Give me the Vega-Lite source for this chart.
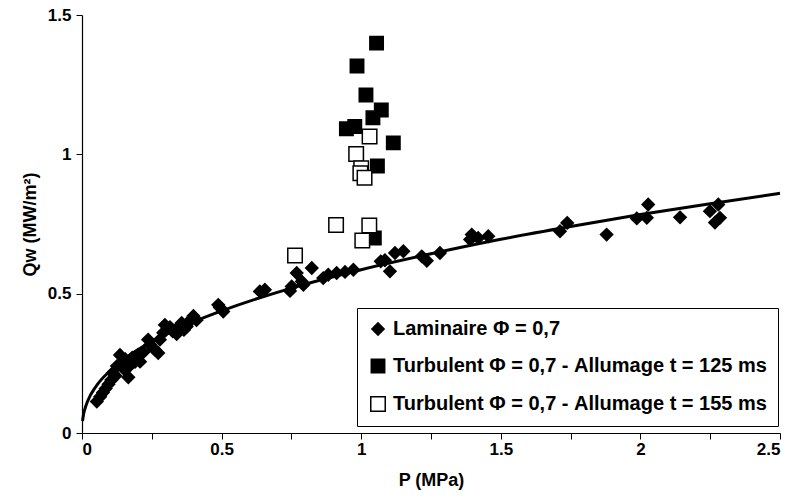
{
  "$schema": "https://vega.github.io/schema/vega-lite/v6.json",
  "width": 698,
  "height": 418,
  "autosize": {"type": "none"},
  "padding": {"left": 82, "top": 15, "right": 15, "bottom": 66},
  "background": "white",
  "config": {
    "font": "Liberation Sans",
    "view": {"stroke": null}
  },
  "datasets": {
    "fit": [
      {"P": 0.002, "Q": 0.043},
      {"P": 0.005, "Q": 0.064},
      {"P": 0.01, "Q": 0.085},
      {"P": 0.02, "Q": 0.114},
      {"P": 0.05, "Q": 0.167},
      {"P": 0.1, "Q": 0.223},
      {"P": 0.15, "Q": 0.265},
      {"P": 0.2, "Q": 0.299},
      {"P": 0.3, "Q": 0.354},
      {"P": 0.4, "Q": 0.399},
      {"P": 0.5, "Q": 0.438},
      {"P": 0.75, "Q": 0.52},
      {"P": 1.0, "Q": 0.586},
      {"P": 1.25, "Q": 0.643},
      {"P": 1.5, "Q": 0.695},
      {"P": 1.75, "Q": 0.741},
      {"P": 2.0, "Q": 0.784},
      {"P": 2.25, "Q": 0.823},
      {"P": 2.5, "Q": 0.86}
    ],
    "pts": [
      {"P": 0.053, "Q": 0.113, "s": "Laminaire Φ = 0,7"},
      {"P": 0.065, "Q": 0.13, "s": "Laminaire Φ = 0,7"},
      {"P": 0.075, "Q": 0.145, "s": "Laminaire Φ = 0,7"},
      {"P": 0.085, "Q": 0.16, "s": "Laminaire Φ = 0,7"},
      {"P": 0.095, "Q": 0.175, "s": "Laminaire Φ = 0,7"},
      {"P": 0.105, "Q": 0.19, "s": "Laminaire Φ = 0,7"},
      {"P": 0.11, "Q": 0.215, "s": "Laminaire Φ = 0,7"},
      {"P": 0.12, "Q": 0.205, "s": "Laminaire Φ = 0,7"},
      {"P": 0.125, "Q": 0.24, "s": "Laminaire Φ = 0,7"},
      {"P": 0.136, "Q": 0.28, "s": "Laminaire Φ = 0,7"},
      {"P": 0.14, "Q": 0.25, "s": "Laminaire Φ = 0,7"},
      {"P": 0.15, "Q": 0.23, "s": "Laminaire Φ = 0,7"},
      {"P": 0.155, "Q": 0.265, "s": "Laminaire Φ = 0,7"},
      {"P": 0.166, "Q": 0.2, "s": "Laminaire Φ = 0,7"},
      {"P": 0.17, "Q": 0.24, "s": "Laminaire Φ = 0,7"},
      {"P": 0.18, "Q": 0.27, "s": "Laminaire Φ = 0,7"},
      {"P": 0.19, "Q": 0.255, "s": "Laminaire Φ = 0,7"},
      {"P": 0.2, "Q": 0.28, "s": "Laminaire Φ = 0,7"},
      {"P": 0.208, "Q": 0.256, "s": "Laminaire Φ = 0,7"},
      {"P": 0.22, "Q": 0.29, "s": "Laminaire Φ = 0,7"},
      {"P": 0.237, "Q": 0.335, "s": "Laminaire Φ = 0,7"},
      {"P": 0.244, "Q": 0.317, "s": "Laminaire Φ = 0,7"},
      {"P": 0.26, "Q": 0.3, "s": "Laminaire Φ = 0,7"},
      {"P": 0.273, "Q": 0.287, "s": "Laminaire Φ = 0,7"},
      {"P": 0.279, "Q": 0.335, "s": "Laminaire Φ = 0,7"},
      {"P": 0.291, "Q": 0.36, "s": "Laminaire Φ = 0,7"},
      {"P": 0.297, "Q": 0.388, "s": "Laminaire Φ = 0,7"},
      {"P": 0.315, "Q": 0.38, "s": "Laminaire Φ = 0,7"},
      {"P": 0.325, "Q": 0.365, "s": "Laminaire Φ = 0,7"},
      {"P": 0.339, "Q": 0.355, "s": "Laminaire Φ = 0,7"},
      {"P": 0.345, "Q": 0.38, "s": "Laminaire Φ = 0,7"},
      {"P": 0.357, "Q": 0.395, "s": "Laminaire Φ = 0,7"},
      {"P": 0.365, "Q": 0.37, "s": "Laminaire Φ = 0,7"},
      {"P": 0.375, "Q": 0.382, "s": "Laminaire Φ = 0,7"},
      {"P": 0.385, "Q": 0.4, "s": "Laminaire Φ = 0,7"},
      {"P": 0.393, "Q": 0.41, "s": "Laminaire Φ = 0,7"},
      {"P": 0.399, "Q": 0.42, "s": "Laminaire Φ = 0,7"},
      {"P": 0.41, "Q": 0.405, "s": "Laminaire Φ = 0,7"},
      {"P": 0.488, "Q": 0.46, "s": "Laminaire Φ = 0,7"},
      {"P": 0.494, "Q": 0.45, "s": "Laminaire Φ = 0,7"},
      {"P": 0.506, "Q": 0.436, "s": "Laminaire Φ = 0,7"},
      {"P": 0.637, "Q": 0.508, "s": "Laminaire Φ = 0,7"},
      {"P": 0.655, "Q": 0.514, "s": "Laminaire Φ = 0,7"},
      {"P": 0.745, "Q": 0.51, "s": "Laminaire Φ = 0,7"},
      {"P": 0.751, "Q": 0.526, "s": "Laminaire Φ = 0,7"},
      {"P": 0.769, "Q": 0.574, "s": "Laminaire Φ = 0,7"},
      {"P": 0.787, "Q": 0.544, "s": "Laminaire Φ = 0,7"},
      {"P": 0.793, "Q": 0.532, "s": "Laminaire Φ = 0,7"},
      {"P": 0.823, "Q": 0.592, "s": "Laminaire Φ = 0,7"},
      {"P": 0.864, "Q": 0.556, "s": "Laminaire Φ = 0,7"},
      {"P": 0.882, "Q": 0.568, "s": "Laminaire Φ = 0,7"},
      {"P": 0.912, "Q": 0.574, "s": "Laminaire Φ = 0,7"},
      {"P": 0.942, "Q": 0.578, "s": "Laminaire Φ = 0,7"},
      {"P": 0.972, "Q": 0.586, "s": "Laminaire Φ = 0,7"},
      {"P": 1.07, "Q": 0.616, "s": "Laminaire Φ = 0,7"},
      {"P": 1.085, "Q": 0.62, "s": "Laminaire Φ = 0,7"},
      {"P": 1.103, "Q": 0.58, "s": "Laminaire Φ = 0,7"},
      {"P": 1.121, "Q": 0.646, "s": "Laminaire Φ = 0,7"},
      {"P": 1.151, "Q": 0.652, "s": "Laminaire Φ = 0,7"},
      {"P": 1.217, "Q": 0.634, "s": "Laminaire Φ = 0,7"},
      {"P": 1.235, "Q": 0.618, "s": "Laminaire Φ = 0,7"},
      {"P": 1.282, "Q": 0.646, "s": "Laminaire Φ = 0,7"},
      {"P": 1.39, "Q": 0.694, "s": "Laminaire Φ = 0,7"},
      {"P": 1.396, "Q": 0.712, "s": "Laminaire Φ = 0,7"},
      {"P": 1.419, "Q": 0.7, "s": "Laminaire Φ = 0,7"},
      {"P": 1.455, "Q": 0.706, "s": "Laminaire Φ = 0,7"},
      {"P": 1.712, "Q": 0.724, "s": "Laminaire Φ = 0,7"},
      {"P": 1.738, "Q": 0.754, "s": "Laminaire Φ = 0,7"},
      {"P": 1.879, "Q": 0.712, "s": "Laminaire Φ = 0,7"},
      {"P": 1.987, "Q": 0.77, "s": "Laminaire Φ = 0,7"},
      {"P": 2.023, "Q": 0.772, "s": "Laminaire Φ = 0,7"},
      {"P": 2.028, "Q": 0.82, "s": "Laminaire Φ = 0,7"},
      {"P": 2.142, "Q": 0.774, "s": "Laminaire Φ = 0,7"},
      {"P": 2.249, "Q": 0.796, "s": "Laminaire Φ = 0,7"},
      {"P": 2.279, "Q": 0.82, "s": "Laminaire Φ = 0,7"},
      {"P": 2.285, "Q": 0.772, "s": "Laminaire Φ = 0,7"},
      {"P": 2.267, "Q": 0.755, "s": "Laminaire Φ = 0,7"},
      {"P": 1.055, "Q": 1.399, "s": "Turbulent Φ = 0,7 - Allumage t = 125 ms"},
      {"P": 0.985, "Q": 1.317, "s": "Turbulent Φ = 0,7 - Allumage t = 125 ms"},
      {"P": 1.017, "Q": 1.213, "s": "Turbulent Φ = 0,7 - Allumage t = 125 ms"},
      {"P": 1.072, "Q": 1.159, "s": "Turbulent Φ = 0,7 - Allumage t = 125 ms"},
      {"P": 1.042, "Q": 1.131, "s": "Turbulent Φ = 0,7 - Allumage t = 125 ms"},
      {"P": 0.977, "Q": 1.1, "s": "Turbulent Φ = 0,7 - Allumage t = 125 ms"},
      {"P": 0.947, "Q": 1.092, "s": "Turbulent Φ = 0,7 - Allumage t = 125 ms"},
      {"P": 1.115, "Q": 1.041, "s": "Turbulent Φ = 0,7 - Allumage t = 125 ms"},
      {"P": 1.058, "Q": 0.958, "s": "Turbulent Φ = 0,7 - Allumage t = 125 ms"},
      {"P": 1.047, "Q": 0.7, "s": "Turbulent Φ = 0,7 - Allumage t = 125 ms"},
      {"P": 1.03, "Q": 1.064, "s": "Turbulent Φ = 0,7 - Allumage t = 155 ms"},
      {"P": 0.982, "Q": 1.001, "s": "Turbulent Φ = 0,7 - Allumage t = 155 ms"},
      {"P": 1.0, "Q": 0.95, "s": "Turbulent Φ = 0,7 - Allumage t = 155 ms"},
      {"P": 0.997, "Q": 0.932, "s": "Turbulent Φ = 0,7 - Allumage t = 155 ms"},
      {"P": 1.012, "Q": 0.916, "s": "Turbulent Φ = 0,7 - Allumage t = 155 ms"},
      {"P": 0.91, "Q": 0.746, "s": "Turbulent Φ = 0,7 - Allumage t = 155 ms"},
      {"P": 1.029, "Q": 0.745, "s": "Turbulent Φ = 0,7 - Allumage t = 155 ms"},
      {"P": 1.004, "Q": 0.691, "s": "Turbulent Φ = 0,7 - Allumage t = 155 ms"},
      {"P": 0.763, "Q": 0.637, "s": "Turbulent Φ = 0,7 - Allumage t = 155 ms"}
    ]
  },
  "layer": [
    {
      "data": {"name": "fit"},
      "mark": {"type": "line", "color": "black", "strokeWidth": 3, "interpolate": "monotone"},
      "encoding": {
        "x": {"field": "P", "type": "quantitative", "scale": {"domain": [0, 2.5], "nice": false, "zero": true},
          "axis": {"values": [0, 0.25, 0.5, 0.75, 1, 1.25, 1.5, 1.75, 2, 2.25, 2.5],
                   "labelExpr": "datum.value % 0.5 === 0 ? format(datum.value, '~g') : ''",
                   "grid": false, "domainColor": "black", "domainWidth": 1.2, "tickColor": "black", "tickSize": 6,
                   "labelFont": "Liberation Sans", "labelFontSize": 17, "labelFontWeight": "bold", "labelColor": "black",
                   "labelPadding": 2,
                   "title": "P (MPa)", "titleFont": "Liberation Sans", "titleFontSize": 18, "titleFontWeight": "bold",
                   "titleColor": "black", "titlePadding": 14}},
        "y": {"field": "Q", "type": "quantitative", "scale": {"domain": [0, 1.5], "nice": false},
          "axis": {"values": [0, 0.5, 1, 1.5], "format": "~g",
                   "grid": false, "domainColor": "black", "domainWidth": 1.2, "tickColor": "black", "tickSize": 6,
                   "labelFont": "Liberation Sans", "labelFontSize": 17, "labelFontWeight": "bold", "labelColor": "black",
                   "labelPadding": 5,
                   "title": "Qw (MW/m²)", "titleFont": "Liberation Sans", "titleFontSize": 18, "titleFontWeight": "bold",
                   "titleColor": "black", "titlePadding": 8}}
      }
    },
    {
      "data": {"name": "pts"},
      "mark": {"type": "point", "filled": true, "stroke": "black", "strokeWidth": 1.5, "opacity": 1},
      "encoding": {
        "x": {"field": "P", "type": "quantitative"},
        "y": {"field": "Q", "type": "quantitative"},
        "fill": {"field": "s", "type": "nominal",
          "scale": {"domain": ["Laminaire Φ = 0,7", "Turbulent Φ = 0,7 - Allumage t = 125 ms", "Turbulent Φ = 0,7 - Allumage t = 155 ms"],
                    "range": ["black", "black", "white"]},
          "legend": {"title": null, "orient": "none", "legendX": 275, "legendY": 293,
                     "labelFont": "Liberation Sans", "labelFontSize": 20, "labelFontWeight": "bold", "labelColor": "black",
                     "labelLimit": 600, "rowPadding": 17, "padding": 11, "strokeColor": "black", "fillColor": "white",
                     "symbolStrokeColor": "black", "symbolStrokeWidth": 1.5, "labelOffset": 5, "cornerRadius": 0}},
        "shape": {"field": "s", "type": "nominal",
          "scale": {"domain": ["Laminaire Φ = 0,7", "Turbulent Φ = 0,7 - Allumage t = 125 ms", "Turbulent Φ = 0,7 - Allumage t = 155 ms"],
                    "range": ["diamond", "square", "square"]}},
        "size": {"field": "s", "type": "nominal",
          "scale": {"domain": ["Laminaire Φ = 0,7", "Turbulent Φ = 0,7 - Allumage t = 125 ms", "Turbulent Φ = 0,7 - Allumage t = 155 ms"],
                    "range": [150, 210, 190]}}
      }
    }
  ]
}
